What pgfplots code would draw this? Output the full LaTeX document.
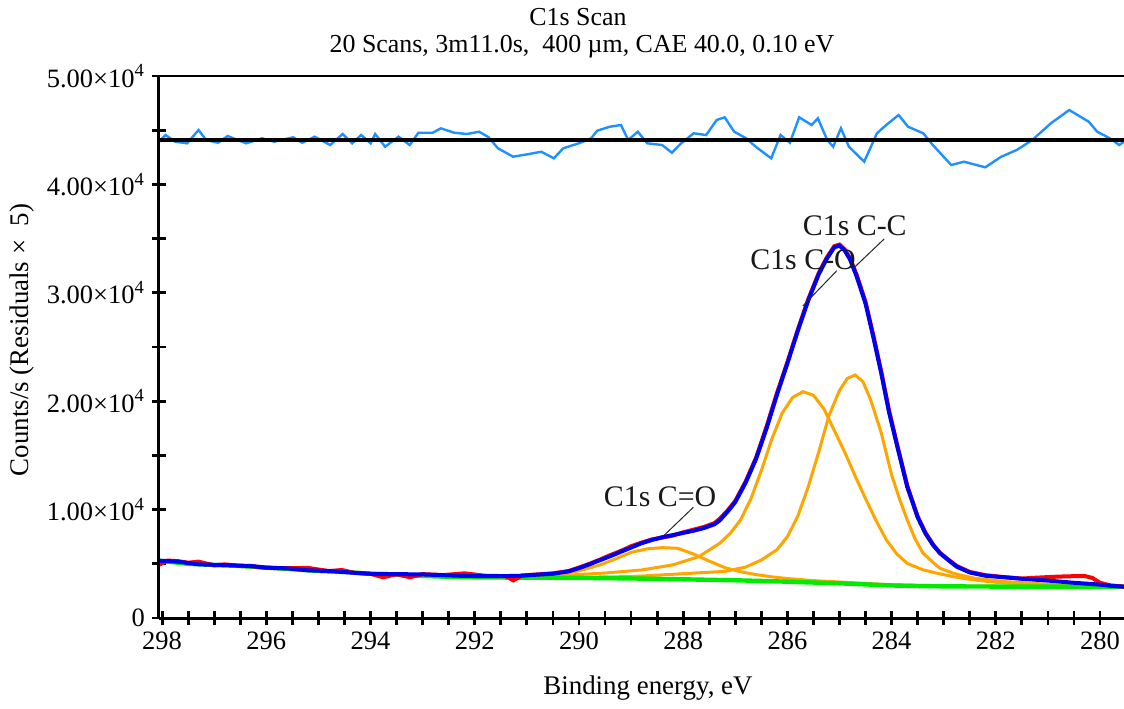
\documentclass[border=0pt]{standalone}
\usepackage{fontspec}
\setmainfont{Liberation Serif}
\usepackage{pgfplots}
\pgfplotsset{compat=1.18}
\definecolor{envblue}{RGB}{0,0,240}
\definecolor{resblue}{RGB}{30,144,255}
\definecolor{pkorange}{RGB}{255,165,0}
\definecolor{bggreen}{RGB}{0,235,0}
\definecolor{rawred}{RGB}{255,0,0}
\begin{document}
\begin{tikzpicture}[x=1bp,y=1bp]
\path[use as bounding box] (0,0) rectangle (562,354);
\begin{axis}[
  at={(79.5bp,45bp)}, anchor=south west,
  scale only axis, width=482.5bp, height=271bp,
  x dir=reverse, xmin=279.54, xmax=298.06, ymin=0, ymax=50000,
  axis line style={draw=none},
  clip=false,
  xtick={280,282,284,286,288,290,292,294,296,298},
  xticklabels={280,282,284,286,288,290,292,294,296,298},
  minor x tick num=3,
  ytick={0,10000,20000,30000,40000,50000},
  yticklabels={0,1.00×10\textsuperscript{4},2.00×10\textsuperscript{4},3.00×10\textsuperscript{4},4.00×10\textsuperscript{4},5.00×10\textsuperscript{4}},
  minor y tick num=1,
  xtick pos=left, ytick pos=left,
  tick align=center,
  major tick length=7bp, minor tick length=7bp,
  every tick/.style={black, line width=1.4bp},
  ticklabel style={font=\fontsize{13.3}{15}\selectfont},
  scaled y ticks=false,
]
% orange components
\addplot[pkorange, line width=1.5bp] coordinates {
(292.0,3760) (291.5,3745) (291.0,3790) (290.5,3950) (290.0,4350) (289.6,4890) (289.3,5450) (289.0,6050) (288.7,6380) (288.4,6490) (288.1,6430) (287.8,5900) (287.5,5250) (287.2,4650) (286.9,4270) (286.6,4000) (286.3,3800) (286.0,3640) (285.5,3450) (285.0,3320) (284.5,3190) (284.0,3070) (283.0,2970) (282.0,2930) (281.0,2915) (280.0,2905) (279.54,2900)
};
\addplot[pkorange, line width=1.5bp] coordinates {
(292.0,3770) (291.0,3800) (290.4,3900) (289.5,4150) (288.8,4430) (288.2,4900) (287.7,5660) (287.3,6890) (287.1,7800) (286.9,9040) (286.7,11000) (286.5,13600) (286.3,16500) (286.1,18900) (285.9,20350) (285.7,20880) (285.5,20550) (285.3,19300) (285.1,17300) (284.9,15300) (284.7,13100) (284.5,11000) (284.3,9000) (284.1,7200) (283.9,5900) (283.7,5040) (283.4,4450) (283.1,4100) (282.8,3800) (282.4,3500) (282.0,3300) (281.5,3150) (281.0,3050) (280.0,2950) (279.54,2920)
};
\addplot[pkorange, line width=1.5bp] coordinates {
(292.0,3755) (291.0,3730) (290.0,3760) (289.0,3820) (288.1,4060) (287.2,4300) (286.8,4700) (286.5,5350) (286.2,6300) (286.0,7500) (285.8,9400) (285.6,12100) (285.4,15300) (285.2,18700) (285.0,21000) (284.85,22100) (284.7,22420) (284.55,21800) (284.4,20100) (284.2,17100) (284.0,13200) (283.85,11000) (283.7,9040) (283.55,7300) (283.4,6000) (283.2,5100) (283.07,4580) (282.8,4100) (282.4,3660) (282.0,3450) (281.8,3350) (281.3,3200) (280.8,3040) (280.0,2960) (279.54,2930)
};
% background
\addplot[bggreen, line width=2.2bp] coordinates {
(298.06,5290) (297.5,5000) (297.0,4890) (296.5,4800) (296.0,4650) (295.5,4500) (295.0,4340) (294.5,4250) (294.0,4080) (293.5,4000) (293.0,3880) (292.5,3800) (292.0,3750) (291.0,3720) (290.0,3700) (289.0,3650) (288.0,3570) (287.0,3480) (286.5,3420) (286.0,3350) (285.5,3270) (285.0,3200) (284.5,3100) (284.0,3000) (283.5,2950) (283.0,2920) (282.0,2900) (281.0,2895) (280.0,2890) (279.54,2890)
};
% raw data
\addplot[rawred, line width=2bp] coordinates {
(298.06,4900) (297.9,5300) (297.7,5250) (297.5,5100) (297.3,5200) (297.0,4850) (296.8,4950) (296.5,4800) (296.3,4780) (296.0,4620) (295.6,4600) (295.2,4620) (294.8,4330) (294.55,4430) (294.3,4150) (294.0,4080) (293.76,3760) (293.5,4030) (293.24,3760) (293.0,4050) (292.6,3960) (292.2,4120) (291.8,3900) (291.4,3860) (291.26,3470) (291.1,3920) (290.8,4020) (290.5,4120) (290.2,4330) (290.0,4650) (289.8,5000) (289.6,5380) (289.4,5800) (289.2,6180) (289.0,6620) (288.8,6950) (288.6,7250) (288.4,7430) (288.2,7600) (288.0,7900) (287.8,8150) (287.6,8400) (287.4,8750) (287.3,9150) (287.15,9900) (287.0,10800) (286.8,12600) (286.6,14800) (286.4,17650) (286.2,20750) (286.0,23600) (285.8,26600) (285.6,29400) (285.4,31800) (285.25,33200) (285.1,34300) (285.0,34450) (284.9,34000) (284.8,33200) (284.67,31650) (284.5,29150) (284.35,26050) (284.2,22750) (284.05,19150) (283.9,16100) (283.7,12200) (283.5,9350) (283.35,7850) (283.2,6750) (283.07,6000) (282.9,5350) (282.75,4800) (282.5,4250) (282.2,3950) (281.9,3800) (281.5,3640) (281.3,3700) (281.1,3750) (280.8,3820) (280.5,3860) (280.3,3880) (280.15,3700) (280.0,3250) (279.8,3000) (279.54,2890)
};
% envelope
\addplot[envblue, line width=2bp] coordinates {
(298.06,5290) (297.7,5200) (297.3,4950) (296.8,4880) (296.3,4800) (296.0,4650) (295.6,4580) (295.2,4400) (294.8,4330) (294.4,4200) (294.0,4080) (293.5,4050) (293.0,4020) (292.6,3950) (292.2,3880) (291.8,3870) (291.4,3870) (291.1,3900) (290.8,4000) (290.5,4080) (290.2,4300) (290.0,4600) (289.8,4950) (289.6,5330) (289.4,5700) (289.2,6100) (289.0,6500) (288.8,6900) (288.6,7200) (288.4,7450) (288.2,7650) (288.0,7850) (287.8,8050) (287.6,8300) (287.4,8650) (287.3,9000) (287.15,9800) (287.0,10700) (286.8,12500) (286.6,14700) (286.4,17500) (286.2,20600) (286.0,23500) (285.8,26500) (285.6,29300) (285.4,31700) (285.25,33100) (285.1,34200) (285.0,34350) (284.9,33900) (284.8,33100) (284.67,31500) (284.5,29000) (284.35,25900) (284.2,22600) (284.05,19000) (283.9,16000) (283.7,12100) (283.5,9300) (283.35,7800) (283.2,6700) (283.07,5970) (282.9,5300) (282.75,4730) (282.5,4200) (282.2,3900) (281.9,3780) (281.5,3620) (281.0,3450) (280.5,3250) (280.0,3080) (279.8,2980) (279.54,2890)
};
% residuals x 5
\addplot[resblue, line width=1.2bp] coordinates {
(298.06,43939) (297.933,44557) (297.750,43939) (297.520,43791) (297.301,45018) (297.155,44096) (296.925,43846) (296.741,44465) (296.388,43791) (296.081,44252) (295.850,43939) (295.486,44345) (295.313,43846) (295.071,44400) (294.775,43634) (294.536,44649) (294.353,43791) (294.180,44557) (293.998,43791) (293.912,44649) (293.720,43477) (293.463,44400) (293.248,43634) (293.081,44769) (292.806,44769) (292.651,45175) (292.396,44769) (292.150,44649) (291.916,44861) (291.733,44345) (291.555,43330) (291.263,42555) (290.956,42804) (290.726,43016) (290.482,42407) (290.303,43330) (290.004,43791) (289.766,44252) (289.651,44953) (289.409,45322) (289.194,45479) (289.056,44096) (288.871,44861) (288.691,43791) (288.403,43634) (288.217,42924) (288.038,43791) (287.798,44714) (287.559,44557) (287.357,45941) (287.203,46190) (287.021,44861) (286.791,44252) (286.607,43477) (286.311,42407) (286.131,44557) (285.952,43846) (285.774,46190) (285.534,45479) (285.415,46097) (285.236,44096) (285.121,43477) (284.973,45175) (284.820,43477) (284.526,42094) (284.282,44714) (284.104,45479) (283.866,46402) (283.685,45322) (283.393,44714) (283.209,43634) (282.856,41789) (282.612,42094) (282.203,41577) (281.896,42555) (281.599,43173) (281.301,44096) (280.944,45636) (280.591,46863) (280.217,45784) (280.054,44861) (279.812,44252) (279.631,43634) (279.54,43939)
};
\addplot[black, line width=1.8bp] coordinates {(298.06,44100) (279.54,44100)};
% axis lines
\draw[black, line width=1.5bp] (axis description cs:0,0) -- (axis description cs:0,1);
\draw[black, line width=1.5bp] (axis description cs:0,0) -- (axis description cs:1,0);
\draw[black, line width=1.1bp] (axis description cs:0,1) -- (axis description cs:1,1);
% annotations
\draw[black!85, line width=0.5bp] (axis cs:284.144,34963) -- (axis cs:284.734,32259);
\draw[black!85, line width=0.5bp] (axis cs:285.052,32038) -- (axis cs:285.705,28782);
\draw[black!85, line width=0.5bp] (axis cs:287.805,10212) -- (axis cs:288.38,7565);
\node[font=\fontsize{15}{17}\selectfont, text=black!90, inner sep=0pt] at (axis cs:284.707,36162) {C1s C-C};
\node[font=\fontsize{15}{17}\selectfont, text=black!90, inner sep=0pt] at (axis cs:285.699,33026) {C1s C-O};
\node[font=\fontsize{15}{17}\selectfont, text=black!90, inner sep=0pt] at (axis cs:288.444,11162) {C1s C=O};
\end{axis}
\node[font=\fontsize{13}{15}\selectfont] at (289,345.5) {C1s Scan};
\node[font=\fontsize{13}{15}\selectfont] at (291,330.5) {20 Scans, 3m11.0s,\ \ 400 µm, CAE 40.0, 0.10 eV};
\node[font=\fontsize{13.5}{16}\selectfont] at (324,10) {Binding energy, eV};
\node[font=\fontsize{13.5}{16}\selectfont, rotate=90] at (11,184) {Counts/s (Residuals ×\ \ 5)};
\end{tikzpicture}
\end{document}
